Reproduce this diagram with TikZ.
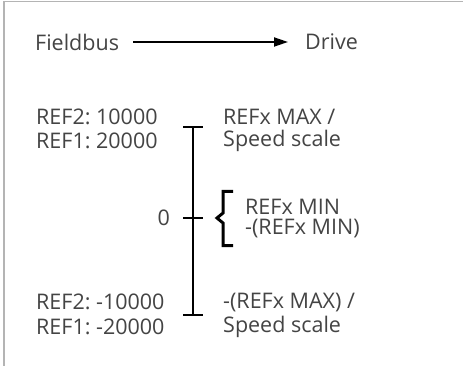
\documentclass[tikz,border=0pt]{standalone}
\usepackage{fontspec}
\setmainfont{Open Sans}
\usetikzlibrary{arrows.meta}
\definecolor{txt}{HTML}{444444}
\definecolor{frame}{HTML}{B4B4B4}
\begin{document}
\begin{tikzpicture}[x=1pt,y=-1pt,
  lbl/.style={font=\fontsize{21.5}{24}\selectfont\frenchspacing, text=txt, inner sep=0pt, anchor=west},
  axis/.style={line width=2pt, black},
  brc/.style={line width=3pt, black, line cap=butt, line join=miter}]
\useasboundingbox (0,0) rectangle (463,366);
\fill[white] (0,0) rectangle (463,366);
\draw[frame, line width=1.5pt] (4,366) -- (4,1.5) -- (463,1.5);
% header
\node[lbl] (fb) at (35,42) {Fieldbus};
\node[lbl] (dr) at (305,42) {Drive};
\coordinate (a0) at (133,42);
\coordinate (a1) at (288,42);
\draw[line width=1.8pt, -{Triangle[length=14pt,width=9pt]}] (a0) -- (a1);
% axis
\coordinate (top) at (193,127);
\coordinate (zero) at (193,218);
\coordinate (bot) at (193,315);
\draw[axis] (top) -- (bot);
\draw[axis] ([xshift=-10pt]top) -- ([xshift=10pt]top);
\draw[axis] ([xshift=-10pt]zero) -- ([xshift=10pt]zero);
\draw[axis] ([xshift=-10pt]bot) -- ([xshift=10pt]bot);
% left labels
\node[lbl] (r2a) at (36,117) {REF2: 10000};
\node[lbl] (r1a) at (36,141) {REF1: 20000};
\node[lbl, anchor=east] (z) at (170,218) {0};
\node[lbl] (r2b) at (36,302) {REF2: -10000};
\node[lbl] (r1b) at (36,327) {REF1: -20000};
% right labels
\node[lbl] (mx1) at (223,117) {REFx MAX /};
\node[lbl] (mx2) at (223,141) {Speed scale};
\node[lbl] (mn1) at (245,207) {REFx MIN};
\node[lbl] (mn2) at (245,229) {-(REFx MIN)};
\node[lbl] (nx1) at (223,302) {-(REFx MAX) /};
\node[lbl] (nx2) at (223,327) {Speed scale};
% brace
\draw[brc] (233,191.5) -- (223,191.5) -- (223,213) -- (217,218) -- (223,223) -- (223,245.5) -- (233,245.5);
\end{tikzpicture}
\end{document}
